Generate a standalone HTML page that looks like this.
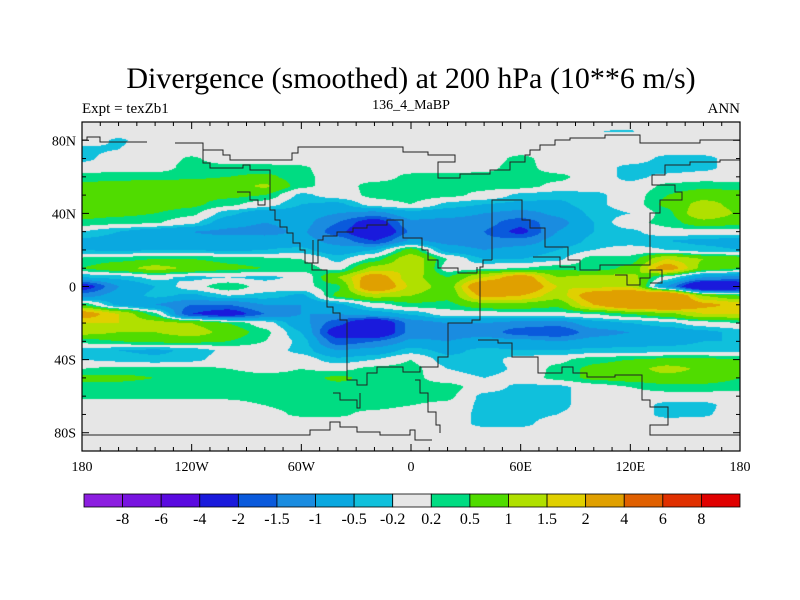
<!DOCTYPE html>
<html><head><meta charset="utf-8">
<style>
body{margin:0;background:#fff;width:800px;height:600px;overflow:hidden;font-family:"Liberation Serif",serif;}
#wrap{position:relative;width:800px;height:600px;}
.t{position:absolute;white-space:nowrap;color:#000;}
</style></head><body>
<div id="wrap">
<div class="t" style="left:0;width:822px;text-align:center;top:62px;font-size:30px;">Divergence (smoothed) at 200 hPa (10**6 m/s)</div>
<div class="t" style="left:82px;top:101px;font-size:15px;">Expt = texZb1</div>
<div class="t" style="left:361px;width:100px;text-align:center;top:98px;font-size:14px;">136_4_MaBP</div>
<div class="t" style="left:700px;width:40px;text-align:right;top:101px;font-size:15px;">ANN</div>
<canvas id="cv" width="800" height="600" style="position:absolute;left:0;top:0"></canvas>
<svg id="sv" width="800" height="600" style="position:absolute;left:0;top:0">
<g fill="none" stroke="#222" stroke-width="1">
<polyline points="82,140 87,140 87,137 100,137 100,142 147,142"/>
<polyline points="175,143 203,143 203,150 223,150 223,155 230,155 230,160 292,160 292,153 298,153 298,147 403,147 403,152 428,152 428,155 455,155 455,162 438,162 438,178 460,178 460,174 490,174 490,170 510,170 510,162 525,162 525,155 530,155 530,150 540,150 540,145 555,145 555,140 570,140 570,138 605,138 605,135 640,135 640,143 700,143 700,140 740,140"/>
<polyline points="203,147 203,163 210,163 210,168 243,168 243,165 250,165 250,170 270,170 270,210 275,210 275,220 280,220 280,227 287,227 287,233 293,233 293,243 300,243 300,250 305,250 305,263 312,263 312,270 327,270 327,307 333,307 333,313 340,313 340,320 347,320 347,380 357,380 357,385 367,385 367,373 377,373 377,367 403,367 403,372 420,372 420,367 438,367 438,357 448,357 448,323 472,323 472,320 480,320 480,267 483,267 483,260 492,260"/>
<polyline points="313,240 313,263 318,263 318,240 323,240 323,236 337,236 337,232 353,232 353,228 367,228 367,225 387,225 387,220 403,220 403,238 422,238 422,250 428,250 428,260 438,260 438,268 458,268 458,273 477,273 477,267"/>
<polyline points="492,260 492,200 522,200 522,220 530,220 530,228 545,228 545,247 568,247 568,260 580,260 580,270 600,270 600,265 650,265 650,213 660,213 660,200 682,200 682,192 675,192 675,185 652,185 652,175 665,175 665,165 690,165 690,162 720,162 720,160 740,160"/>
<polyline points="533,257 560,257 560,267 575,267 575,270"/>
<polyline points="615,275 627,275 627,285 640,285 640,278 650,278 650,270 662,270 662,283 650,283"/>
<polyline points="478,340 498,340 498,343 512,343 512,357 538,357 538,373 562,373 562,367 573,367 573,373 587,373 587,377 615,377 615,375 642,375 642,400 650,400 650,407 668,407 668,425 650,425 650,435 740,435"/>
<polyline points="82,435 310,435 310,430 330,430 330,422 340,422 340,427 357,427 357,432 380,432 380,435 410,435 410,430 415,430 415,440 432,440"/>
<polyline points="333,393 340,393 340,400 357,400 357,408 360,408 360,393"/>
<polyline points="237,192 250,192 250,200 258,200 258,205 265,205 265,198"/>
<polyline points="415,380 420,380 420,393 428,393 428,412 436,412 436,425 440,425 440,433"/>
</g>
</svg>
</div>
<script>
const lons=[-180,-160,-140,-120,-100,-80,-60,-40,-20,0,20,40,60,80,100,120,140,160,180];
const lats=[90,85,80,75,70,65,60,55,50,45,40,35,30,25,20,15,10,5,0,-5,-10,-15,-20,-25,-30,-35,-40,-45,-50,-55,-60,-65,-70,-75,-80,-85,-90];
const levels=[-8,-6,-4,-2,-1.5,-1,-0.5,-0.2,0.2,0.5,1,1.5,2,4,6,8];
const levelLabels=["-8","-6","-4","-2","-1.5","-1","-0.5","-0.2","0.2","0.5","1","1.5","2","4","6","8"];
const colors=["#8c1ee0","#7814e0","#5a0ae0","#1a1adc","#0a5adc","#1a8ce0","#0aa8e0","#10c0dc","#e6e6e6","#00dc82","#50dc00","#b0e000","#e0d000","#e0a000","#e06000","#e03000","#e00000"];
const latTicks=[80,40,0,-40,-80];
const latTickLabels=["80N","40N","0","40S","80S"];
const lonTicks=[-180,-120,-60,0,60,120,180];
const lonTickLabels=["180","120W","60W","0","60E","120E","180"];
const field=[
[0,0,0,0,0,0,0,0,0,0,0,0,0,0,0,0,0,0,0],
[0,0,0,0,0,0,0,0,0,0,0,0,0,0,-0.2,-0.22,0,0,0],
[0,-0.25,0,0,0,0,0,0,0,0,0,0,0,0,0,0,0,0,0],
[-0.3,-0.2,0,0,0,0,0,0,0,0,0,0,0,0,0,0,0,0,0],
[-0.3,0,0,0.25,0,0,0,0,0,0,0,0,0.3,0,0,0,-0.3,-0.3,0],
[0,0,0,0.35,0.3,0.3,0.25,0,0,0,0,0.1,0.35,0,0,-0.3,-0.4,-0.3,0],
[0.35,0.4,0.4,0.45,0.5,0.6,0.3,0,0,0.3,0.35,0.3,0.4,0.3,0,-0.3,-0.1,0,0],
[0.6,0.65,0.7,0.7,0.7,1.1,0.3,0,0.35,0.4,0.35,0.3,0.35,0.1,0,-0.1,0.3,0.4,0.35],
[0.8,0.7,0.7,0.65,0.6,0.5,-0.3,0,0.3,0.4,0.3,0.1,-0.3,-0.4,-0.3,0,0.5,0.75,0.7],
[0.9,0.8,0.7,0.6,0.3,0,-0.5,-0.6,0,0.2,-0.3,-0.5,-0.6,-0.6,-0.3,0,0.6,1.2,0.8],
[0.7,0.6,0.5,0.3,-0.4,-0.8,-0.7,-1.0,-1.2,-0.7,-0.8,-1.0,-1.2,-0.9,-0.4,-0.2,0.35,1.5,0.9],
[0.4,0.3,0.25,-0.1,-0.8,-1.0,-0.8,-1.5,-2.5,-1.1,-1.2,-1.3,-1.8,-1.2,-0.5,0.1,0.3,0.8,0.6],
[-0.2,-0.5,-0.8,-1.0,-1.1,-1.2,-0.9,-1.8,-3,-1.4,-1.3,-1.5,-2.2,-1.0,-0.5,-0.3,0.1,0,0.1],
[-0.6,-0.7,-0.8,-0.9,-0.8,-0.7,-0.8,-1.2,-2.0,-0.9,-1.2,-1.4,-1.3,-0.8,-0.4,-0.4,-0.5,-0.6,-0.7],
[-0.5,-0.6,-0.5,-0.5,-0.6,-0.5,-0.4,-0.8,-0.5,0.7,-0.7,-1.0,-0.8,-0.5,-0.2,0,-0.2,-0.4,-0.5],
[0.3,0.4,0.5,0.5,0.4,0.3,0.2,-0.3,0.3,1.4,0.2,-0.5,-0.5,-0.3,0.4,0.3,1.5,1.0,0.8],
[0.5,0.8,1.2,0.9,0.6,0.5,0.4,0,1.2,1.5,0,0.1,0.2,0.4,0.3,0.6,2.5,0.8,0.5],
[-0.5,-0.4,-0.1,-0.3,-0.2,-0.3,-0.1,1.0,2.5,1.2,0.5,1.5,2.5,1.0,1.2,1.2,0,-1.0,-1.2],
[-2.5,-1.0,-0.5,0,0.5,0,0.1,0.4,3.0,1.4,0.7,3,3,1.5,1.4,1.5,-1.0,-3.5,-3.0],
[-1.2,-0.8,-0.4,-0.6,-0.2,-0.3,-0.6,0.6,1.2,1.0,0.6,2.2,2.0,1.2,2.5,3.0,3.5,1.0,0.5],
[0.5,-0.6,-1.0,-1.5,-1.5,-1.0,-1.0,-0.6,0,0.4,0.4,0.8,0.8,0.6,2.0,3.0,3.5,2.2,1.8],
[2.5,1.5,0.3,-2.0,-2.5,-1.5,-1.0,-1.0,-0.7,-0.45,0,0,0.1,0.1,0.2,0.5,0.8,1.5,1.5],
[1.5,1.5,1.2,1.0,0.5,0,-0.8,-1.8,-3,-1.3,-1.0,-1.0,-1.2,-1.3,-0.7,-0.5,-0.3,0,0.2],
[1.2,1.0,1.0,1.3,0.8,0.3,-0.5,-2.5,-3,-1.3,-1.2,-1.2,-1.8,-2.0,-1.2,-1.0,-0.8,-0.6,-0.4],
[0.3,0.5,0.6,0.6,0.5,0.2,-0.3,-1.8,-1.5,-0.9,-1.0,-0.8,-0.8,-1.0,-0.8,-0.7,-0.7,-0.5,-0.5],
[-0.3,-0.5,-0.6,-0.4,-0.1,0,-0.3,-1.0,-0.8,-0.35,-0.6,-0.4,-0.5,-0.5,-0.4,-0.4,-0.3,-0.3,-0.3],
[-0.2,-0.3,-0.4,-0.3,0,0,0,-0.4,-0.2,0.2,-0.4,-0.4,0,0.1,0.4,0.5,0.6,0.6,0.5],
[0.2,0.3,0.3,0.3,0.2,0.1,0.2,0.1,0.3,0.35,-0.2,-0.4,-0.1,0.3,0.6,0.8,1.2,0.9,0.5],
[0.6,0.6,0.5,0.4,0.35,0.3,0.3,0.6,0.35,0.3,0,-0.2,0,0.3,0.6,0.7,0.8,0.7,0.5],
[0.35,0.35,0.3,0.3,0.3,0.3,0.3,0.35,0.35,0.35,0.35,0,-0.3,-0.3,0,0.2,0.4,0.4,0.35],
[0.3,0.3,0.3,0.3,0.25,0.3,0.35,0.4,0.35,0.35,0.3,-0.3,-0.4,-0.3,0,0,0,0,0],
[0,0,0,0,0.1,0.2,0.3,0.3,0.3,0.2,0.1,-0.3,-0.4,-0.3,0,0,-0.3,-0.3,0],
[0,0,0,0,0,0.1,0.25,0.25,0.1,0,0,-0.3,-0.35,-0.2,0,0,-0.3,-0.25,0],
[0,0,0,0,0,0,0,0,0,0,0,-0.3,-0.3,0,0,0,0,0,0],
[0,0,0,0,0,0,0,0,0,0,0,0,0,0,0,0,0,0,0],
[0,0,0,0,0,0,0,0,0,0,0,0,0,0,0,0,0,0,0],
[0,0,0,0,0,0,0,0,0,0,0,0,0,0,0,0,0,0,0]
];
const X0=82,X1=740,Y0=122,Y1=451;
const xS=lon=>X0+(lon+180)/360*(X1-X0);
const yS=lat=>Y0+(90-lat)/180*(Y1-Y0);
function colorFor(v){let i=0;while(i<levels.length&&v>=levels[i])i++;return colors[i];}
function sample(lon,lat){
  const fx=(lon-lons[0])/(lons[1]-lons[0]);const fy=(lats[0]-lat)/(lats[0]-lats[1]);
  let i=Math.min(Math.floor(fx),lons.length-2),j=Math.min(Math.floor(fy),lats.length-2);
  let tx=fx-i,ty=fy-j;
  tx=tx*tx*(3-2*tx)*0.5+tx*0.5;ty=ty*ty*(3-2*ty)*0.5+ty*0.5;
  const a=field[j][i],b=field[j][i+1],c=field[j+1][i],d=field[j+1][i+1];
  return (a*(1-tx)+b*tx)*(1-ty)+(c*(1-tx)+d*tx)*ty;
}
const cv=document.getElementById('cv');const ctx=cv.getContext('2d');
for(let py=Y0;py<Y1;py++){for(let px=X0;px<X1;px++){
  const lon=-180+(px+0.5-X0)/(X1-X0)*360,lat=90-(py+0.5-Y0)/(Y1-Y0)*180;
  ctx.fillStyle=colorFor(sample(lon,lat));ctx.fillRect(px,py,1,1);}}
const NS='http://www.w3.org/2000/svg';const sv=document.getElementById('sv');
function el(t,a,p){const e=document.createElementNS(NS,t);for(const k in a)e.setAttribute(k,a[k]);(p||sv).appendChild(e);return e;}
const fr=el('rect',{x:X0,y:Y0,width:X1-X0,height:Y1-Y0,fill:'none',stroke:'#000','stroke-width':1.2});


for(let lat=-90;lat<=90;lat+=10){const y=yS(lat);const L=(lat%40===0&&Math.abs(lat)<=80)?7:4;
  const t1=el('line',{x1:X0,y1:y,x2:X0+L,y2:y,stroke:'#000'});
  const t2=el('line',{x1:X1,y1:y,x2:X1-L,y2:y,stroke:'#000'});}
for(let lon=-180;lon<=180;lon+=10){const x=xS(lon);const L=(lon%60===0)?7:4;
  const t1=el('line',{x1:x,y1:Y1,x2:x,y2:Y1-L,stroke:'#000'});
  const t2=el('line',{x1:x,y1:Y0,x2:x,y2:Y0+L,stroke:'#000'});}
latTicks.forEach((lat,k)=>{const t=el('text',{x:X0-6,y:yS(lat)+5,'text-anchor':'end','font-size':14,'font-family':'Liberation Serif, serif'});t.textContent=latTickLabels[k];
  });
lonTicks.forEach((lon,k)=>{const t=el('text',{x:xS(lon),y:471,'text-anchor':'middle','font-size':14,'font-family':'Liberation Serif, serif'});t.textContent=lonTickLabels[k];
  });
const CB0=84,CB1=740,CBY=494,CBH=13,bw=(CB1-CB0)/colors.length;
colors.forEach((c,k)=>{const r=el('rect',{x:CB0+k*bw,y:CBY,width:bw,height:CBH,fill:c,stroke:'#000','stroke-width':0.8});
  });
levelLabels.forEach((s,k)=>{const t=el('text',{x:CB0+(k+1)*bw,y:CBY+CBH+17,'text-anchor':'middle','font-size':16,'font-family':'Liberation Serif, serif'});t.textContent=s;
  });
</script>
</body></html>
